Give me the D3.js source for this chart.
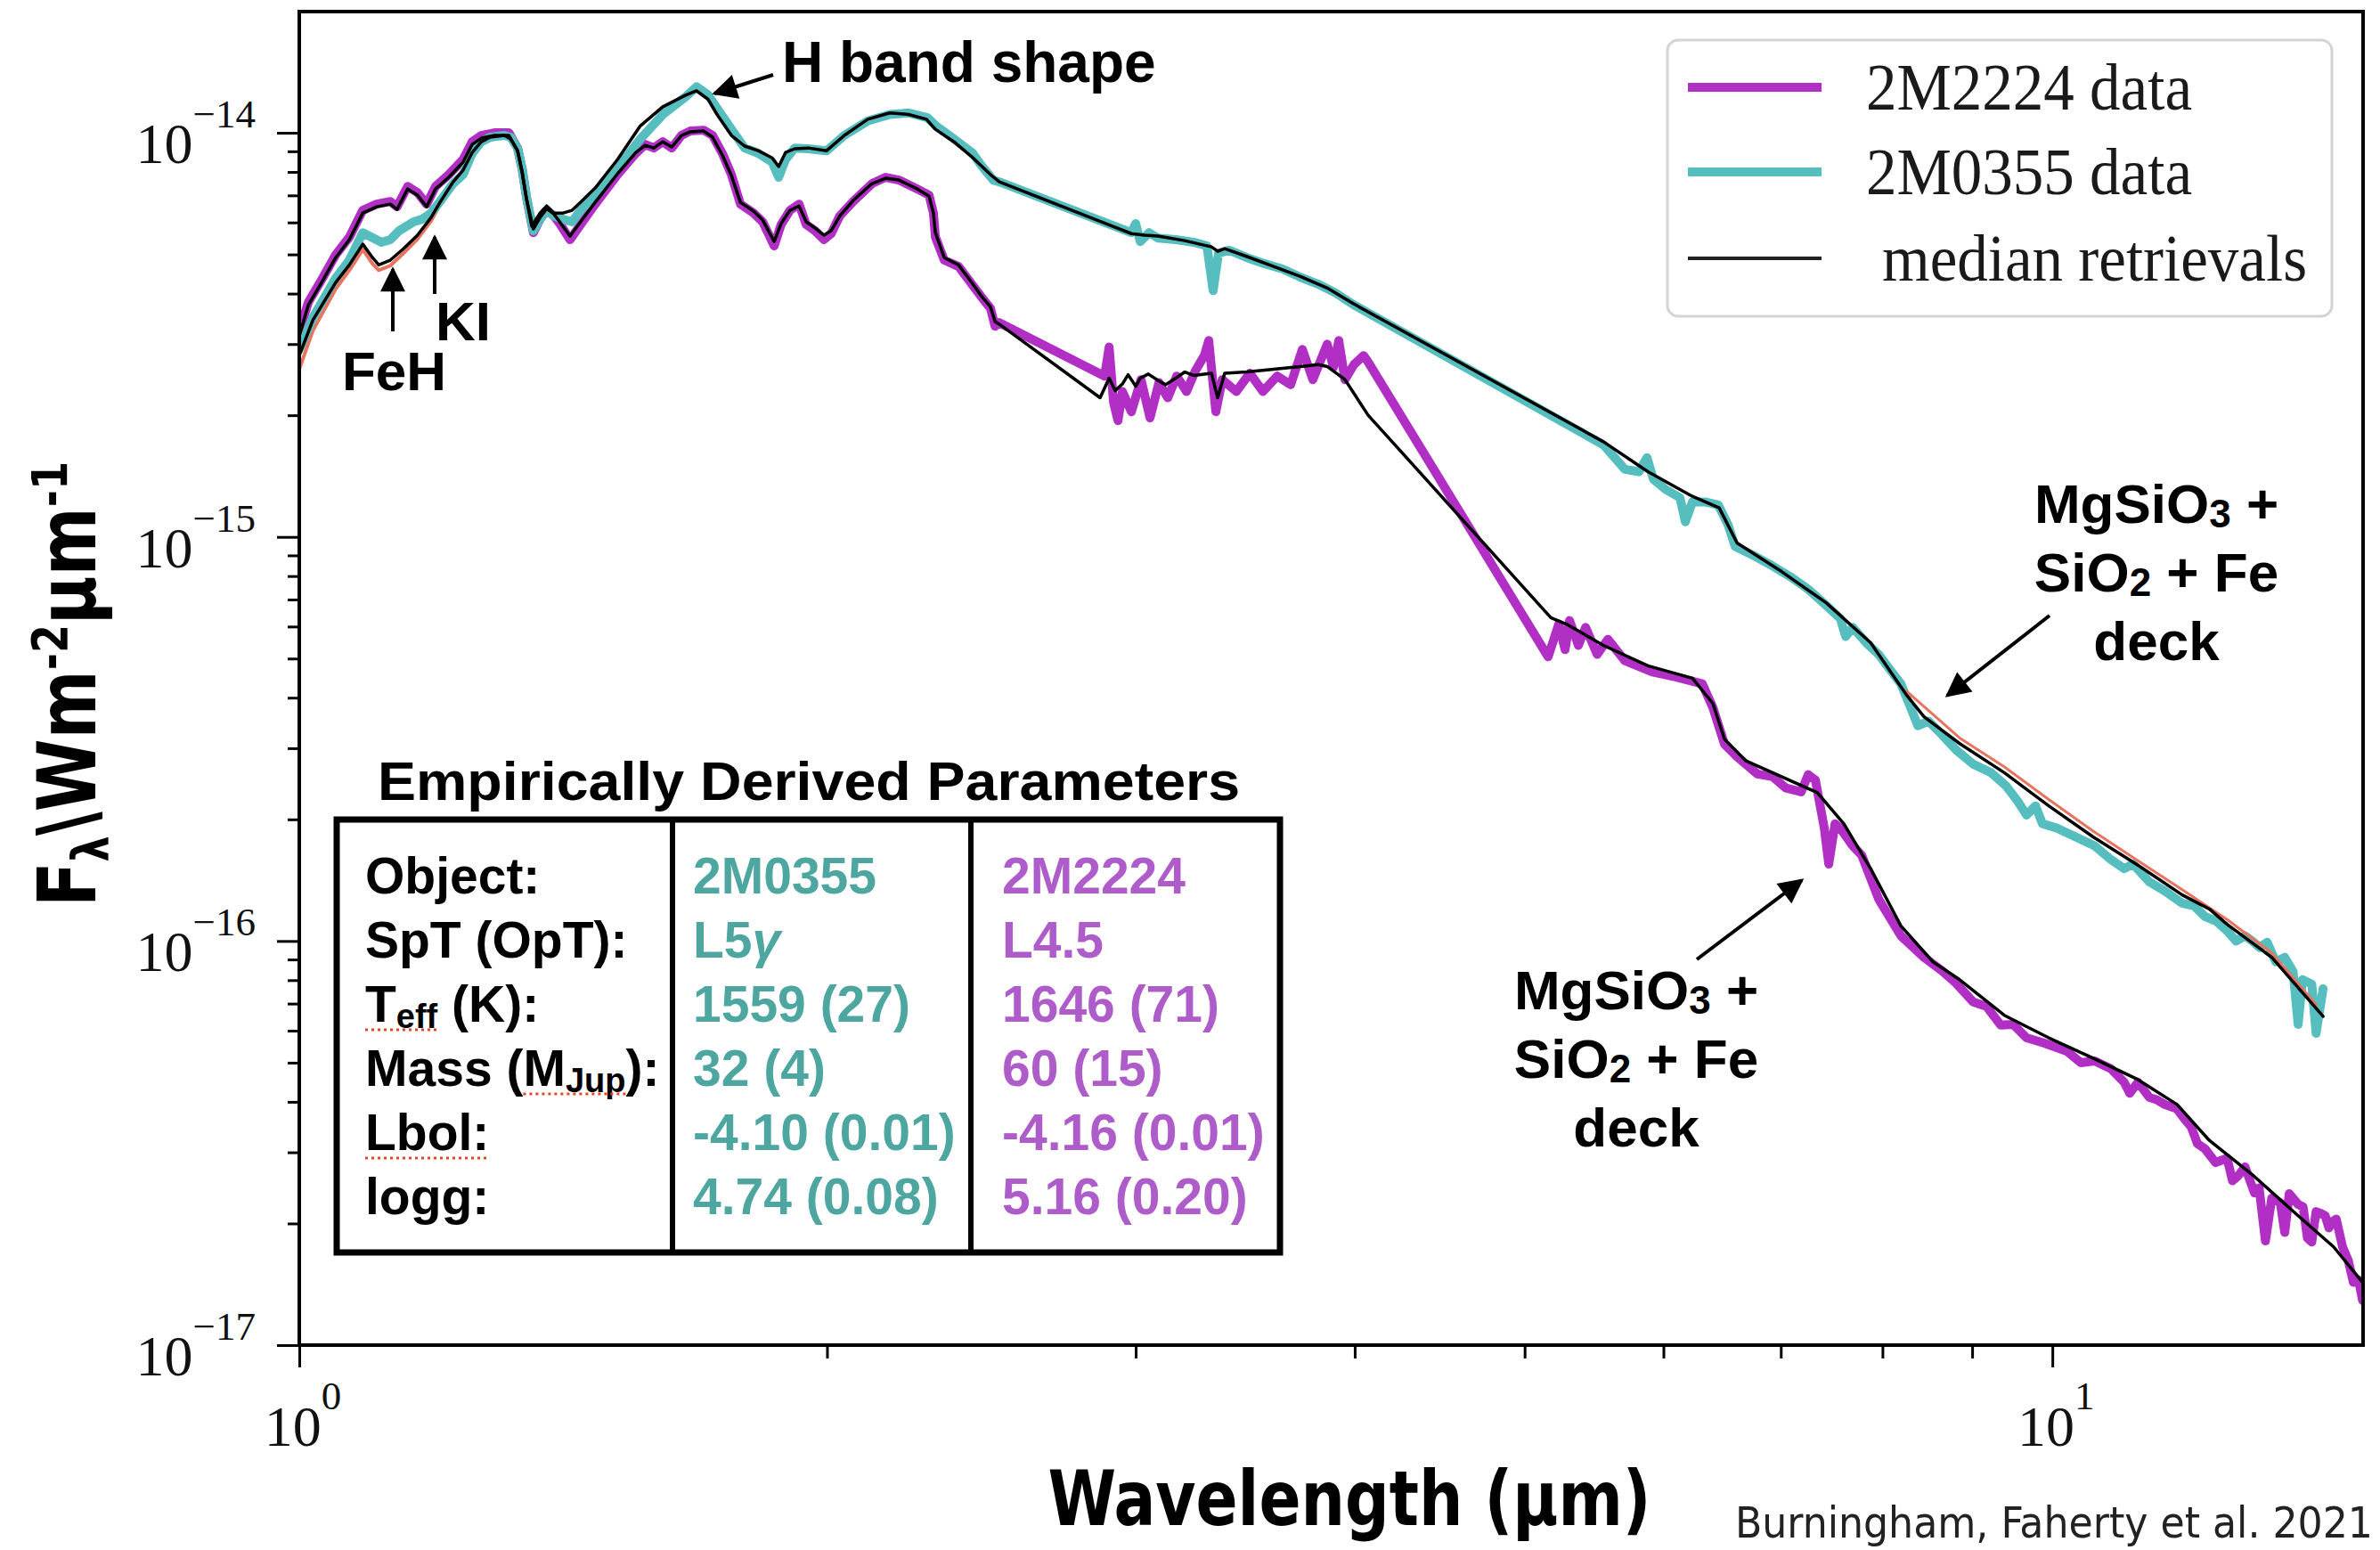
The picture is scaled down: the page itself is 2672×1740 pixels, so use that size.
<!DOCTYPE html>
<html>
<head>
<meta charset="utf-8">
<script src="https://cdn.jsdelivr.net/npm/d3@7"></script>
<style>
  html, body { margin: 0; padding: 0; background: #fff; }
  svg { display: block; }
</style>
</head>
<body>
<div id="chart"></div>
<script>
// Spectra: [wavelength (micron), flux (W m^-2 micron^-1)]
const spec2M2224 = [
  [1.000,3.22e-15],[1.012,3.81e-15],[1.031,4.37e-15],[1.049,4.99e-15],[1.068,5.52e-15],[1.087,6.43e-15],[1.107,6.66e-15],[1.127,6.76e-15],
  [1.137,6.56e-15],[1.153,7.37e-15],[1.168,7.11e-15],[1.182,6.66e-15],[1.196,7.37e-15],[1.217,7.88e-15],[1.240,8.59e-15],[1.255,9.50e-15],
  [1.270,9.85e-15],[1.292,1.00e-14],[1.317,1.00e-14],[1.332,9.17e-15],[1.340,8.16e-15],[1.348,6.90e-15],[1.360,5.66e-15],[1.372,6.11e-15],
  [1.384,6.43e-15],[1.397,6.23e-15],[1.409,5.93e-15],[1.427,5.44e-15],[1.447,5.93e-15],[1.475,6.66e-15],[1.519,7.88e-15],[1.556,8.90e-15],
  [1.575,9.36e-15],[1.593,9.17e-15],[1.612,9.50e-15],[1.631,9.17e-15],[1.652,9.85e-15],[1.671,1.01e-14],[1.701,1.015e-14],[1.721,9.85e-15],
  [1.743,8.90e-15],[1.764,7.88e-15],[1.785,6.66e-15],[1.816,6.33e-15],[1.838,6.02e-15],[1.866,5.25e-15],[1.883,5.93e-15],[1.905,6.43e-15],
  [1.928,6.66e-15],[1.946,5.93e-15],[1.969,5.72e-15],[1.992,5.44e-15],[2.011,5.63e-15],[2.034,6.23e-15],[2.070,6.76e-15],[2.122,7.49e-15],
  [2.160,7.76e-15],[2.198,7.64e-15],[2.252,7.26e-15],[2.287,7.01e-15],[2.300,6.33e-15],[2.306,5.52e-15],[2.333,4.84e-15],[2.377,4.67e-15],
  [2.419,4.22e-15],[2.447,3.95e-15],[2.479,3.68e-15],[2.494,3.32e-15],[2.508,3.39e-15],
  [2.880,2.50e-15],[2.897,2.95e-15],[2.914,2.15e-15],[2.931,1.94e-15],[2.948,2.29e-15],[2.983,2.04e-15],[3.021,2.45e-15],[3.057,1.97e-15],
  [3.093,2.41e-15],[3.129,2.21e-15],[3.166,2.50e-15],[3.207,2.29e-15],[3.245,2.58e-15],[3.283,2.81e-15],[3.302,3.06e-15],[3.333,2.04e-15],
  [3.361,2.45e-15],[3.424,2.29e-15],[3.485,2.54e-15],[3.546,2.29e-15],[3.613,2.50e-15],[3.677,2.38e-15],[3.734,2.91e-15],[3.786,2.45e-15],
  [3.858,3.00e-15],[3.890,2.63e-15],[3.917,3.06e-15],[3.949,2.45e-15],[3.996,2.67e-15],[4.047,2.81e-15],[4.071,2.71e-15],
  [5.157,5.05e-16],[5.230,6.09e-16],[5.273,5.26e-16],[5.304,6.21e-16],[5.366,5.39e-16],[5.417,5.97e-16],[5.500,5.12e-16],[5.578,5.58e-16],
  [5.703,4.94e-16],[5.914,4.63e-16],[6.089,4.51e-16],[6.314,4.33e-16],[6.403,3.78e-16],[6.501,3.07e-16],[6.609,2.86e-16],[6.789,2.59e-16],
  [6.926,2.55e-16],[7.048,2.39e-16],[7.190,2.34e-16],[7.257,2.58e-16],[7.326,2.50e-16],[7.412,1.90e-16],[7.455,1.55e-16],[7.517,1.95e-16],
  [7.569,1.90e-16],[7.694,1.72e-16],[7.785,1.63e-16],[7.960,1.27e-16],[8.196,1.03e-16],[8.449,9.11e-17],[8.650,8.44e-17],[8.813,7.86e-17],
  [9.011,7.07e-17],[9.171,6.89e-17],[9.344,6.19e-17],[9.498,6.22e-17],[9.666,5.76e-17],[9.895,5.59e-17],[10.19,5.34e-17],[10.38,5.00e-17],
  [10.57,5.05e-17],[10.80,4.83e-17],[10.99,4.47e-17],[11.07,4.20e-17],[11.19,4.47e-17],[11.36,4.10e-17],[11.47,4.05e-17],[11.59,3.94e-17],
  [11.78,3.84e-17],[11.90,3.62e-17],[12.00,3.47e-17],[12.10,3.15e-17],[12.22,3.06e-17],[12.39,2.83e-17],[12.58,2.90e-17],[12.67,2.55e-17],
  [12.76,2.62e-17],[12.88,2.76e-17],[13.04,2.38e-17],[13.12,2.45e-17],[13.23,1.81e-17],[13.34,2.31e-17],[13.49,2.25e-17],[13.57,1.90e-17],
  [13.65,2.37e-17],[13.73,2.30e-17],[13.81,2.23e-17],[13.90,2.20e-17],[13.98,1.84e-17],[14.06,1.80e-17],[14.14,2.14e-17],[14.22,2.12e-17],
  [14.31,2.09e-17],[14.38,1.95e-17],[14.44,2.02e-17],[14.52,2.05e-17],[14.64,1.75e-17],[14.75,1.62e-17],[14.85,1.43e-17],[14.95,1.45e-17],
  [15.03,1.29e-17]
];

const spec2M0355 = [
  [1.000,2.91e-15],[1.018,3.49e-15],[1.049,4.37e-15],[1.068,4.84e-15],[1.087,5.66e-15],[1.114,5.36e-15],[1.127,5.44e-15],[1.140,5.72e-15],
  [1.162,6.02e-15],[1.175,6.11e-15],[1.189,6.33e-15],[1.203,6.76e-15],[1.224,7.49e-15],[1.240,7.88e-15],[1.255,8.90e-15],[1.270,9.50e-15],
  [1.285,9.75e-15],[1.309,9.85e-15],[1.320,9.75e-15],[1.332,9.17e-15],[1.340,8.16e-15],[1.348,6.90e-15],[1.360,5.72e-15],[1.372,6.11e-15],
  [1.384,6.43e-15],[1.397,6.23e-15],[1.414,6.11e-15],[1.431,6.02e-15],[1.447,6.43e-15],[1.475,7.01e-15],[1.519,8.16e-15],[1.565,9.65e-15],
  [1.612,1.11e-14],[1.662,1.23e-14],[1.685,1.30e-14],[1.711,1.24e-14],[1.731,1.15e-14],[1.764,1.02e-14],[1.795,9.17e-15],[1.827,8.90e-15],
  [1.861,8.46e-15],[1.877,7.76e-15],[1.894,8.59e-15],[1.917,9.17e-15],[1.951,9.13e-15],[1.999,9.03e-15],[2.046,9.85e-15],[2.110,1.07e-14],
  [2.172,1.11e-14],[2.226,1.12e-14],[2.282,1.09e-14],[2.308,1.04e-14],[2.363,9.65e-15],[2.422,8.90e-15],[2.450,8.29e-15],[2.488,7.64e-15],
  [2.508,7.56e-15],
  [2.983,5.66e-15],[3.000,5.96e-15],[3.018,5.38e-15],[3.053,5.66e-15],[3.089,5.49e-15],[3.162,5.44e-15],[3.237,5.36e-15],[3.294,5.25e-15],
  [3.321,4.07e-15],[3.345,5.04e-15],[3.392,5.12e-15],[3.472,4.91e-15],[3.555,4.74e-15],[3.639,4.60e-15],[3.725,4.39e-15],[3.813,4.22e-15],
  [3.903,4.01e-15],[3.996,3.75e-15],
  [5.545,1.69e-15],[5.703,1.47e-15],[5.811,1.45e-15],[5.872,1.57e-15],[5.921,1.39e-15],[6.018,1.31e-15],[6.132,1.25e-15],[6.175,1.09e-15],
  [6.233,1.22e-15],[6.344,1.22e-15],[6.448,1.20e-15],[6.532,1.07e-15],[6.593,9.47e-16],[6.765,8.96e-16],[6.926,8.47e-16],[7.089,7.97e-16],
  [7.257,7.42e-16],[7.429,6.77e-16],[7.569,6.28e-16],[7.623,5.67e-16],[7.694,5.97e-16],[7.831,5.47e-16],[7.960,5.12e-16],[8.063,4.75e-16],
  [8.196,4.33e-16],[8.302,3.78e-16],[8.381,3.41e-16],[8.499,3.50e-16],[8.650,3.24e-16],[8.813,2.97e-16],[9.011,2.74e-16],[9.224,2.61e-16],
  [9.410,2.42e-16],[9.554,2.22e-16],[9.666,2.05e-16],[9.780,2.16e-16],[9.872,1.95e-16],[10.07,1.90e-16],[10.31,1.81e-16],[10.57,1.72e-16],
  [10.80,1.59e-16],[10.99,1.51e-16],[11.12,1.55e-16],[11.36,1.40e-16],[11.59,1.33e-16],[11.86,1.24e-16],[12.05,1.22e-16],[12.22,1.15e-16],
  [12.40,1.12e-16],[12.58,1.06e-16],[12.73,1.00e-16],[12.88,1.03e-16],[13.00,1.00e-16],[13.13,9.63e-17],[13.26,9.93e-17],[13.41,8.88e-17],
  [13.57,9.11e-17],[13.72,8.40e-17],[13.81,6.22e-17],[13.89,8.02e-17],[14.06,7.82e-17],[14.14,5.91e-17],[14.27,7.62e-17]
];

// median retrieved spectra (black lines)
const median2M2224 = [
  [1.000,3.14e-15],[1.012,3.75e-15],[1.031,4.30e-15],[1.049,4.91e-15],[1.068,5.44e-15],[1.087,6.33e-15],[1.107,6.56e-15],[1.127,6.66e-15],
  [1.137,6.46e-15],[1.153,7.26e-15],[1.168,7.01e-15],[1.182,6.56e-15],[1.196,7.26e-15],[1.217,7.76e-15],[1.240,8.46e-15],[1.255,9.36e-15],
  [1.270,9.70e-15],[1.292,9.85e-15],[1.317,9.85e-15],[1.332,9.03e-15],[1.340,8.04e-15],[1.348,6.83e-15],[1.360,5.78e-15],[1.372,6.17e-15],
  [1.384,6.49e-15],[1.397,6.30e-15],[1.409,5.99e-15],[1.427,5.55e-15],[1.447,6.02e-15],[1.475,6.73e-15],[1.519,7.92e-15],[1.556,8.94e-15],
  [1.575,9.31e-15],[1.593,9.17e-15],[1.612,9.50e-15],[1.631,9.22e-15],[1.652,9.85e-15],[1.671,1.005e-14],[1.701,1.01e-14],[1.721,9.75e-15],
  [1.743,8.81e-15],[1.764,7.84e-15],[1.785,6.73e-15],[1.816,6.40e-15],[1.838,6.08e-15],[1.866,5.38e-15],[1.883,5.96e-15],[1.905,6.43e-15],
  [1.928,6.59e-15],[1.946,6.02e-15],[1.969,5.81e-15],[1.992,5.58e-15],[2.011,5.72e-15],[2.034,6.23e-15],[2.070,6.80e-15],[2.122,7.49e-15],
  [2.160,7.72e-15],[2.198,7.64e-15],[2.252,7.26e-15],[2.287,6.97e-15],[2.300,6.33e-15],[2.306,5.66e-15],[2.333,4.91e-15],[2.377,4.71e-15],
  [2.419,4.26e-15],[2.447,3.97e-15],[2.479,3.71e-15],[2.494,3.41e-15],[2.508,3.36e-15],
  [2.863,2.21e-15],[2.897,2.47e-15],[2.92,2.30e-15],[2.948,2.39e-15],[2.97,2.52e-15],[3.00,2.36e-15],[3.018,2.47e-15],[3.05,2.53e-15],
  [3.089,2.44e-15],[3.12,2.38e-15],[3.162,2.47e-15],[3.20,2.56e-15],[3.237,2.51e-15],[3.314,2.54e-15],[3.341,2.21e-15],[3.372,2.54e-15],
  [3.472,2.56e-15],[3.596,2.60e-15],[3.725,2.64e-15],[3.813,2.67e-15],[3.858,2.64e-15],[3.949,2.45e-15],[4.071,2.00e-15],[4.217,1.69e-15],
  [5.175,6.31e-16],[5.292,6.06e-16],[5.545,5.39e-16],[5.879,4.80e-16],[6.233,4.47e-16],[6.403,3.87e-16],[6.501,3.16e-16],[6.687,2.79e-16],
  [7.007,2.55e-16],[7.343,2.33e-16],[7.605,1.95e-16],[7.877,1.51e-16],[8.196,1.09e-16],[8.549,8.88e-17],[8.854,8.02e-17],[9.388,6.55e-17],
  [9.953,5.76e-17],[10.55,5.13e-17],[11.19,4.54e-17],[11.78,3.94e-17],[12.29,3.21e-17],[13.03,2.62e-17],[13.81,2.09e-17],[14.47,1.75e-17],
  [15.03,1.43e-17]
];

const median2M0355 = [
  [1.000,2.81e-15],[1.018,3.44e-15],[1.049,4.26e-15],[1.068,4.71e-15],[1.087,5.30e-15],[1.101,4.91e-15],[1.110,4.71e-15],[1.127,4.84e-15],
  [1.147,5.17e-15],[1.168,5.58e-15],[1.189,6.17e-15],[1.203,6.73e-15],[1.224,7.56e-15],[1.240,8.08e-15],[1.255,8.94e-15],[1.270,9.50e-15],
  [1.285,9.75e-15],[1.309,9.85e-15],[1.320,9.65e-15],[1.332,9.03e-15],[1.340,7.96e-15],[1.348,6.83e-15],[1.357,5.87e-15],[1.372,6.33e-15],
  [1.384,6.59e-15],[1.397,6.33e-15],[1.414,6.33e-15],[1.431,6.43e-15],[1.447,6.73e-15],[1.475,7.30e-15],[1.519,8.59e-15],[1.565,1.04e-14],
  [1.612,1.16e-14],[1.662,1.24e-14],[1.685,1.27e-14],[1.711,1.21e-14],[1.731,1.11e-14],[1.764,9.85e-15],[1.795,9.27e-15],[1.827,9.03e-15],
  [1.861,8.67e-15],[1.877,8.25e-15],[1.894,8.94e-15],[1.917,9.13e-15],[1.951,9.17e-15],[1.999,9.03e-15],[2.046,9.85e-15],[2.110,1.08e-14],
  [2.172,1.12e-14],[2.226,1.11e-14],[2.279,1.08e-14],[2.306,1.02e-14],[2.363,9.50e-15],[2.419,8.72e-15],[2.479,7.88e-15],[2.508,7.56e-15],
  [2.983,5.63e-15],[3.035,5.58e-15],[3.089,5.55e-15],[3.199,5.41e-15],[3.314,5.22e-15],[3.341,5.09e-15],[3.372,5.17e-15],[3.472,4.94e-15],
  [3.596,4.67e-15],[3.725,4.41e-15],[3.858,4.13e-15],[3.996,3.77e-15],
  [5.545,1.72e-15],[5.879,1.45e-15],[6.233,1.26e-15],[6.456,1.18e-15],[6.609,9.66e-16],[7.007,8.21e-16],[7.429,6.87e-16],[7.877,5.47e-16],
  [8.254,4.07e-16],[8.449,3.59e-16],[8.854,3.08e-16],[9.388,2.61e-16],[9.953,2.16e-16],[10.55,1.81e-16],[11.19,1.54e-16],[11.86,1.30e-16],
  [12.29,1.20e-16],[12.58,1.10e-16],[13.34,9.11e-17],[14.27,6.51e-17]
];

// retrieval spread (thin red) where it shows from under the median
const spreadNearIR = [
  [1.000,2.60e-15],[1.018,3.24e-15],[1.049,4.11e-15],[1.068,4.57e-15],[1.087,5.14e-15],[1.101,4.74e-15],[1.110,4.57e-15],[1.127,4.69e-15],
  [1.147,5.04e-15],[1.168,5.46e-15],[1.189,6.05e-15],[1.203,6.63e-15]
];
const spreadMidIR = [
  [8.254,4.16e-16],[8.854,3.18e-16],[9.388,2.70e-16],[9.953,2.24e-16],[10.55,1.87e-16],[11.19,1.58e-16],[11.86,1.34e-16],[12.58,1.13e-16],
  [13.34,9.34e-17],[14.14,6.96e-17]
];

// axes
const xMajorTicks = [1, 10];
const xTickExponents = ["0", "1"];
const yMajorTicks = [1e-14, 1e-15, 1e-16, 1e-17];
const yTickExponents = ["\u221214", "\u221215", "\u221216", "\u221217"];

// legend
const legendLabels = ["2M2224 data", "2M0355 data", "median retrievals"];

// parameter table
const paramNames = ["Object:", "SpT (OpT):", "T_{eff} (K):", "Mass (M_{Jup}):", "Lbol:", "logg:"];
const params2M0355 = ["2M0355", "L5\u03b3", "1559 (27)", "32 (4)", "-4.10 (0.01)", "4.74 (0.08)"];
const params2M2224 = ["2M2224", "L4.5", "1646 (71)", "60 (15)", "-4.16 (0.01)", "5.16 (0.20)"];

const deckLabel = ["MgSiO_{3} +", "SiO_{2} + Fe", "deck"];

// colours
const purple = "#b22fc5";
const teal = "#56bebe";
const tealText = "#4ea6a1";
const purpleText = "#ad5cc9";
const spreadRed = "#e8735e";

const serif = "'Liberation Serif', 'Times New Roman', serif";
const sans = "'Liberation Sans', Arial, sans-serif";
const narrow = "'Liberation Sans Narrow', 'DejaVu Sans Condensed', sans-serif";

const width = 2672, height = 1740;
const margin = { top: 13, right: 19, bottom: 230, left: 336 };
const plotW = width - margin.left - margin.right;
const plotH = height - margin.top - margin.bottom;

const svg = d3.select("#chart")
  .append("svg")
  .attr("width", width)
  .attr("height", height);

svg.append("rect").attr("width", width).attr("height", height).attr("fill", "#fff");

const defs = svg.append("defs");
defs.append("clipPath").attr("id", "plot-clip")
  .append("rect").attr("width", plotW).attr("height", plotH);
defs.append("marker")
  .attr("id", "head")
  .attr("viewBox", "0 0 10 10")
  .attr("refX", 9).attr("refY", 5)
  .attr("markerWidth", 8).attr("markerHeight", 7)
  .attr("orient", "auto")
  .append("path").attr("d", "M0,0 L10,5 L0,10 z").attr("fill", "#000");

const g = svg.append("g").attr("transform", `translate(${margin.left},${margin.top})`);

// log scales
const x = d3.scaleLog().domain([1, 15.04]).range([0, plotW]);
const y = d3.scaleLog().domain([1.995e-14, 1e-17]).range([0, plotH]);

const line = d3.line().x(d => x(d[0])).y(d => y(d[1]));

const curves = g.append("g").attr("clip-path", "url(#plot-clip)")
  .attr("fill", "none").attr("stroke-linejoin", "round").attr("stroke-linecap", "round");

curves.append("path").datum(spreadNearIR).attr("d", line).attr("stroke", spreadRed).attr("stroke-width", 4);
curves.append("path").datum(spec2M2224).attr("d", line).attr("stroke", purple).attr("stroke-width", 10);
curves.append("path").datum(spec2M0355).attr("d", line).attr("stroke", teal).attr("stroke-width", 10);
curves.append("path").datum(spreadMidIR).attr("d", line).attr("stroke", spreadRed).attr("stroke-width", 3);
curves.append("path").datum(median2M2224).attr("d", line).attr("stroke", "#000").attr("stroke-width", 3.5);
curves.append("path").datum(median2M0355).attr("d", line).attr("stroke", "#000").attr("stroke-width", 3.5);

// frame
g.append("rect")
  .attr("width", plotW).attr("height", plotH)
  .attr("fill", "none").attr("stroke", "#000").attr("stroke-width", 4);

// ticks
function tickAxis(axis, values, size) {
  const a = g.append("g").call(axis.tickValues(values).tickSize(size).tickFormat(""));
  a.select(".domain").remove();
  a.selectAll("line").attr("stroke", "#000").attr("stroke-width", 3);
  return a;
}
const isMajor = (v, majors) => majors.some(m => Math.abs(v - m) / m < 1e-6);
const yMinor = y.ticks().filter(v => !isMajor(v, yMajorTicks));
const xMinor = x.ticks().filter(v => !isMajor(v, xMajorTicks));

tickAxis(d3.axisLeft(y), yMajorTicks, 25);
tickAxis(d3.axisLeft(y), yMinor, 13);
tickAxis(d3.axisBottom(x), xMajorTicks, 25).attr("transform", `translate(0,${plotH})`);
tickAxis(d3.axisBottom(x), xMinor, 15).attr("transform", `translate(0,${plotH})`);

// tick labels 10^n
const yLab = g.append("g").selectAll("text")
  .data(yMajorTicks)
  .join("text")
  .attr("x", -49)
  .attr("y", d => y(d) + 34)
  .attr("text-anchor", "end")
  .attr("font-family", serif)
  .attr("font-size", 64)
  .attr("fill", "#111");
yLab.append("tspan").text("10");
yLab.append("tspan").attr("dy", -40).attr("font-size", 45).text((d, i) => yTickExponents[i]);

const xLab = g.append("g").selectAll("text")
  .data(xMajorTicks)
  .join("text")
  .attr("x", d => x(d) + 4)
  .attr("y", plotH + 113)
  .attr("text-anchor", "middle")
  .attr("font-family", serif)
  .attr("font-size", 64)
  .attr("fill", "#111");
xLab.append("tspan").text("10");
xLab.append("tspan").attr("dy", -41).attr("font-size", 45).text((d, i) => xTickExponents[i]);

// text with _{sub} and ^{sup} pieces
function richText(sel, str, opts) {
  const parts = str.split(/(_\{[^}]*\}|\^\{[^}]*\}|\u03b3)/).filter(p => p !== "");
  let cur = 0;
  parts.forEach(p => {
    let txt = p, off = 0, size = null;
    if (p.startsWith("_{")) { txt = p.slice(2, -1); off = opts.sub; size = opts.small; }
    else if (p.startsWith("^{")) { txt = p.slice(2, -1); off = -opts.sup; size = opts.small; }
    const t = sel.append("tspan").attr("dy", off - cur).text(txt);
    if (size) t.attr("font-size", size);
    if (p === "\u03b3") t.attr("font-style", "italic");
    cur = off;
  });
}

// axis titles
const yTitle = svg.append("text")
  .attr("transform", "translate(107,768) rotate(-90)")
  .attr("text-anchor", "middle")
  .attr("font-family", narrow)
  .attr("font-weight", "bold")
  .attr("font-size", 90)
  .attr("textLength", 500)
  .attr("lengthAdjust", "spacingAndGlyphs");
richText(yTitle, "F_{\u03bb}\\Wm^{-2}\u03bcm^{-1}", { sub: 14, sup: 32, small: 56 });

svg.append("text")
  .attr("x", 1515).attr("y", 1712)
  .attr("text-anchor", "middle")
  .attr("font-family", narrow)
  .attr("font-weight", "bold")
  .attr("font-size", 86)
  .attr("textLength", 677)
  .attr("lengthAdjust", "spacingAndGlyphs")
  .text("Wavelength (\u03bcm)");

svg.append("text")
  .attr("x", 1948).attr("y", 1726)
  .attr("font-family", narrow)
  .attr("font-size", 48)
  .attr("fill", "#222")
  .attr("textLength", 716)
  .attr("lengthAdjust", "spacingAndGlyphs")
  .text("Burningham, Faherty et al. 2021");

// legend
const legend = svg.append("g");
legend.append("rect")
  .attr("x", 1872).attr("y", 45).attr("width", 746).attr("height", 310).attr("rx", 12)
  .attr("fill", "#fff").attr("fill-opacity", 0.85)
  .attr("stroke", "#d4d4d4").attr("stroke-width", 3);
const legendStyle = [
  { color: purple, w: 10, y: 98, tx: 2095, len: 366 },
  { color: teal, w: 10, y: 193, tx: 2095, len: 366 },
  { color: "#222", w: 4, y: 290, tx: 2113, len: 477 }
];
legendLabels.forEach((lab, i) => {
  const s = legendStyle[i];
  legend.append("line")
    .attr("x1", 1895).attr("x2", 2045).attr("y1", s.y).attr("y2", s.y)
    .attr("stroke", s.color).attr("stroke-width", s.w);
  legend.append("text")
    .attr("x", s.tx).attr("y", s.y + 25)
    .attr("font-family", serif).attr("font-size", 74).attr("fill", "#1a1a1a")
    .attr("textLength", s.len).attr("lengthAdjust", "spacingAndGlyphs")
    .text(lab);
});

// annotations
function arrow(x1, y1, x2, y2) {
  svg.append("line")
    .attr("x1", x1).attr("y1", y1).attr("x2", x2).attr("y2", y2)
    .attr("stroke", "#000").attr("stroke-width", 4)
    .attr("marker-end", "url(#head)");
}
function boldText(xp, yp, str, anchor, size) {
  const t = svg.append("text")
    .attr("x", xp).attr("y", yp)
    .attr("text-anchor", anchor || "start")
    .attr("font-family", sans).attr("font-weight", "bold")
    .attr("font-size", size || 62).attr("fill", "#000");
  richText(t, str, { sub: 5, sup: 20, small: 44 });
  return t;
}

boldText(878, 92, "H band shape", "start", 64);
arrow(868, 84, 802, 105);
boldText(384, 438, "FeH");
arrow(441, 372, 441, 302);
boldText(489, 382, "KI");
arrow(488, 330, 488, 266);

deckLabel.forEach((s, i) => boldText(2421, 587 + i * 77, s, "middle"));
arrow(2301, 691, 2186, 781);
deckLabel.forEach((s, i) => boldText(1837, 1133 + i * 77, s, "middle"));
arrow(1905, 1077, 2023, 988);

// parameter table
const table = { x: 378, y: 920, w: 1059, h: 486, cols: [410, 778, 1125], dividers: [755, 1090] };
const rowY = i => 1003 + i * 72;

boldText(908, 898, "Empirically Derived Parameters", "middle", 62)
  .attr("textLength", 968).attr("lengthAdjust", "spacingAndGlyphs");

svg.append("rect")
  .attr("x", table.x).attr("y", table.y).attr("width", table.w).attr("height", table.h)
  .attr("fill", "#fff").attr("stroke", "#000").attr("stroke-width", 7);
table.dividers.forEach(dx => {
  svg.append("line")
    .attr("x1", dx).attr("x2", dx).attr("y1", table.y).attr("y2", table.y + table.h)
    .attr("stroke", "#000").attr("stroke-width", 6);
});

// red dotted spell-check marks under some labels: row -> [first char, last char]
const spellMarks = { 2: [0, 3], 3: [6, 9], 4: [0, 4] };

paramNames.forEach((name, i) => {
  const t = svg.append("text")
    .attr("x", table.cols[0]).attr("y", rowY(i))
    .attr("font-family", sans).attr("font-weight", "bold")
    .attr("font-size", 57).attr("fill", "#000");
  richText(t, name, { sub: 7, sup: 20, small: 38 });
  if (spellMarks[i]) {
    const node = t.node();
    const x1 = node.getStartPositionOfChar(spellMarks[i][0]).x;
    const x2 = node.getEndPositionOfChar(spellMarks[i][1]).x;
    svg.append("line")
      .attr("x1", x1).attr("x2", x2).attr("y1", rowY(i) + 9).attr("y2", rowY(i) + 9)
      .attr("stroke", "#e0462f").attr("stroke-width", 3).attr("stroke-dasharray", "3 4");
  }
  const a = svg.append("text")
    .attr("x", table.cols[1]).attr("y", rowY(i))
    .attr("font-family", sans).attr("font-weight", "bold")
    .attr("font-size", 57).attr("fill", tealText);
  richText(a, params2M0355[i], { sub: 7, sup: 20, small: 38 });
  svg.append("text")
    .attr("x", table.cols[2]).attr("y", rowY(i))
    .attr("font-family", sans).attr("font-weight", "bold")
    .attr("font-size", 57).attr("fill", purpleText)
    .text(params2M2224[i]);
});
</script>
</body>
</html>
